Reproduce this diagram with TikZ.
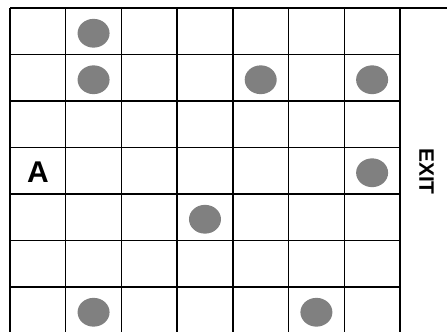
\documentclass[tikz,border=0pt]{standalone}
\usepackage{fontspec}
\setmainfont{Liberation Sans}
\usetikzlibrary{positioning}
\tikzset{
    gridline/.style={
        line width=1.1pt,
        draw=black
    },
    stone/.style={
        fill=black!50
    },
    bigtext/.style={
        font=\bfseries\fontsize{22.5}{22.5}\selectfont,
        inner sep=0pt
    },
    exittext/.style={
        font=\bfseries\fontsize{15.7}{15.7}\selectfont,
        inner sep=0pt,
        rotate=-90
    }
}

\begin{document}
\begin{tikzpicture}[
    x=0.75pt,
    y=-0.75pt
]
    \useasboundingbox (0,0) rectangle (447,332);

    % Raster: 7 Spalten, 7 Zeilen
    \foreach \c in {0,...,7}
        \draw[gridline] ({10+55.71*\c},8) -- ({10+55.71*\c},332);
    \foreach \r in {1,...,6}
        \draw[gridline] (10,{8+46.5*\r}) -- (400,{8+46.5*\r});
    \draw[gridline] (10,8) -- (447,8);

    % Hindernisse (Spalte/Zeile)
    \foreach \c/\r in {1/0, 1/1, 4/1, 6/1, 6/3, 3/4, 1/6, 5/6}
        \fill[stone] ({10+55.71*(\c+0.5)},{8+46.5*(\r+0.5)+2})
            ellipse [x radius=12pt, y radius=10.8pt];

    % Start und Ausgang
    \node[bigtext]  (start) at (38,172)    {A};
    \node[exittext] (exit)  at (426.5,171.5) {EXIT};

\end{tikzpicture}
\end{document}
